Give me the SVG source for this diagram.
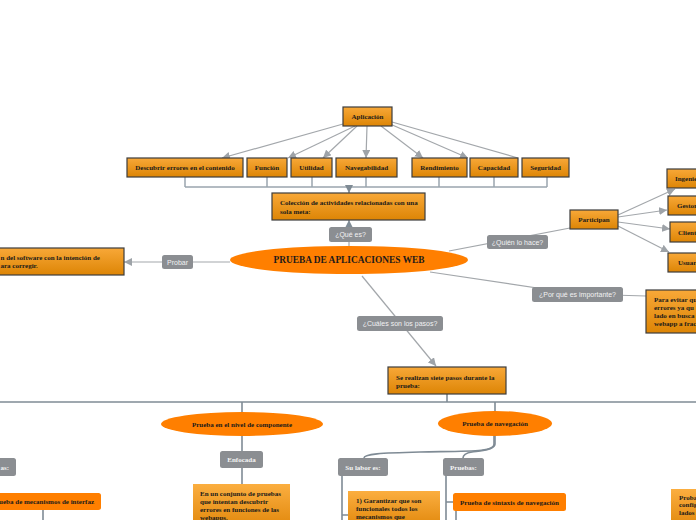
<svg xmlns="http://www.w3.org/2000/svg" width="696" height="520" viewBox="0 0 696 520">
<style>
.box{fill:url(#g);stroke:#3c3c3c;stroke-width:1.2}
.gbox{fill:url(#g2)}
.obox{fill:#ff7f00}
.ell{fill:#ff7f00}
.t{font-family:"Liberation Serif",serif;font-weight:bold;font-size:7px;fill:#1a1a1a}
.tc{text-anchor:middle}
.title{font-size:9.4px;fill:#1d1a1a}
.lbl{fill:#8b8e92}
.lt{font-family:"Liberation Sans",sans-serif;font-size:7px;fill:#f2f2f2;text-anchor:middle}
.lw{font-family:"Liberation Serif",serif;font-weight:bold;font-size:7px;fill:#f4f4f4;text-anchor:middle}
.c{stroke:#a3a7ab;stroke-width:1.2;fill:none}
.b{stroke:#9aa5ae;stroke-width:1.5;fill:none}
.d{stroke:#7f8b95;stroke-width:1.6;fill:none}
</style>
<defs>
<linearGradient id="g" x1="0" y1="0" x2="0" y2="1"><stop offset="0" stop-color="#f8a838"/><stop offset="1" stop-color="#dd8505"/></linearGradient>
<linearGradient id="g2" x1="0" y1="0" x2="0" y2="1"><stop offset="0" stop-color="#fbae40"/><stop offset="1" stop-color="#e38b10"/></linearGradient>
<marker id="a" markerUnits="userSpaceOnUse" markerWidth="8" markerHeight="8" refX="8" refY="4" orient="auto"><path d="M0,0 L8,4 L0,8 z" fill="#9ea3a8"/></marker>
<marker id="a2" markerUnits="userSpaceOnUse" markerWidth="8" markerHeight="8" refX="8" refY="4" orient="auto"><path d="M0,0 L8,4 L0,8 z" fill="#7f8b95"/></marker>
</defs>
<rect width="696" height="520" fill="#ffffff"/>

<g id="connectors">
<line class="c" x1="343" y1="124" x2="222" y2="158" marker-end="url(#a)"/>
<line class="c" x1="355" y1="126" x2="288" y2="158" marker-end="url(#a)"/>
<line class="c" x1="357" y1="126" x2="323" y2="158" marker-end="url(#a)"/>
<line class="c" x1="367" y1="126" x2="366" y2="158" marker-end="url(#a)"/>
<line class="c" x1="381" y1="126" x2="423" y2="158" marker-end="url(#a)"/>
<line class="c" x1="390" y1="124" x2="468" y2="158" marker-end="url(#a)"/>
<line class="c" x1="392" y1="122" x2="518" y2="158"/>
<path class="b" d="M185,177 V187 M267,177 V187 M312,177 V187 M366,177 V187 M439,177 V187 M494,177 V187 M547,177 V187 M185,187 H547"/>
<line class="b" x1="349" y1="187" x2="349" y2="193" stroke="#8f9aa3" marker-end="url(#a2)"/>
<line class="c" x1="349" y1="246" x2="349" y2="220" stroke="#7f8b95" marker-end="url(#a2)"/>
<line class="c" x1="230" y1="262" x2="124" y2="262" marker-end="url(#a)"/>
<line class="c" x1="449" y1="251" x2="570" y2="228"/>
<line class="c" x1="618" y1="215" x2="675" y2="189" marker-end="url(#a)"/>
<line class="c" x1="618" y1="217" x2="667" y2="210" marker-end="url(#a)"/>
<line class="c" x1="618" y1="222" x2="670" y2="229" marker-end="url(#a)"/>
<line class="c" x1="618" y1="226" x2="669" y2="252" marker-end="url(#a)"/>
<path class="c" d="M430,272 L577,294 L646,296"/>
<line class="c" x1="362" y1="276" x2="436" y2="366" marker-end="url(#a)"/>
<line class="d" x1="447" y1="394" x2="447" y2="402"/>
<line class="d" x1="0" y1="402" x2="696" y2="402" stroke-width="2"/>
<line class="d" x1="242" y1="402" x2="242" y2="412"/>
<line class="d" x1="495" y1="402" x2="495" y2="411"/>
<line class="d" x1="242" y1="436" x2="242" y2="451"/>
<line class="d" x1="242" y1="468" x2="242" y2="484"/>
<path class="d" d="M495,436 V444 C495,452 470,451 420,452 C380,453 364,454 364,458"/>
<path class="d" d="M494,436 V444 C494,451 478,451 472,452 C466,453 463,455 463,458"/>
<path class="d" d="M342,476 V520 M342,515 H348"/>
<path class="d" d="M446,476 V520 M446,502 H453"/>
<line class="d" x1="456" y1="511" x2="456" y2="520"/>
<line class="d" x1="43" y1="510" x2="43" y2="520"/>
</g>

<g id="aplicacion"><rect class="box" x="343" y="107" width="49" height="19"/><text class="t tc" x="367.5" y="119">Aplicación</text></g>
<g id="descubrir"><rect class="box" x="127" y="158" width="116" height="19"/><text class="t tc" x="185" y="170">Descubrir errores en el contenido</text></g>
<g id="funcion"><rect class="box" x="247" y="158" width="40" height="19"/><text class="t tc" x="267" y="170">Función</text></g>
<g id="utilidad"><rect class="box" x="291" y="158" width="41" height="19"/><text class="t tc" x="311.5" y="170">Utilidad</text></g>
<g id="navegabilidad"><rect class="box" x="336" y="158" width="61" height="19"/><text class="t tc" x="366.5" y="170">Navegabilidad</text></g>
<g id="rendimiento"><rect class="box" x="412" y="158" width="55" height="19"/><text class="t tc" x="439.5" y="170">Rendimiento</text></g>
<g id="capacidad"><rect class="box" x="470" y="158" width="48" height="19"/><text class="t tc" x="494" y="170">Capacidad</text></g>
<g id="seguridad"><rect class="box" x="522" y="158" width="47" height="19"/><text class="t tc" x="545.5" y="170">Seguridad</text></g>
<g id="coleccion"><rect class="box" x="272" y="193" width="153" height="27"/><text class="t" x="280" y="204.5">Colección de actividades relacionadas con una</text><text class="t" x="280" y="213.5">sola meta:</text></g>

<g id="queEs"><rect class="lbl" x="329" y="227" width="43" height="15" rx="2.5"/><text class="lt" x="350.5" y="237">¿Qué es?</text></g>
<g id="main"><ellipse class="ell" cx="349" cy="260" rx="119" ry="14"/><text class="t tc title" x="349" y="263.4">PRUEBA DE APLICACIONES WEB</text></g>
<g id="probar"><rect class="lbl" x="162" y="255" width="31" height="14" rx="2.5"/><text class="lt" x="177.5" y="264.5">Probar</text></g>
<g id="proceso"><rect class="box" x="-10" y="248" width="134" height="27"/><text class="t" x="0.5" y="259.5">n del software con la intención de</text><text class="t" x="0.5" y="267.5">ara corregir.</text></g>

<g id="quien"><rect class="lbl" x="487" y="235" width="61" height="14" rx="2.5"/><text class="lt" x="517.5" y="244.5">¿Quién lo hace?</text></g>
<g id="participan"><rect class="box" x="570" y="210" width="48" height="19"/><text class="t tc" x="594" y="222">Participan</text></g>
<g id="ingenieros"><rect class="box" x="667" y="169" width="40" height="19"/><text class="t" x="675" y="181">Ingenieros</text></g>
<g id="gestores"><rect class="box" x="668" y="196" width="40" height="19"/><text class="t" x="677" y="208">Gestores</text></g>
<g id="clientes"><rect class="box" x="670" y="222" width="40" height="20"/><text class="t" x="678" y="234.5">Clientes</text></g>
<g id="usuarios"><rect class="box" x="668" y="253" width="40" height="19"/><text class="t" x="678" y="265">Usuarios</text></g>

<g id="importante"><rect class="lbl" x="532" y="287" width="91" height="15" rx="2.5"/><text class="lt" x="577.5" y="297">¿Por qué es importante?</text></g>
<g id="evitar"><rect class="box" x="646" y="290" width="60" height="43"/><text class="t" x="654" y="302">Para evitar qu</text><text class="t" x="654" y="310">errores ya qu</text><text class="t" x="654" y="318">lado en busca</text><text class="t" x="654" y="326">webapp a frac</text></g>

<g id="pasos"><rect class="lbl" x="357" y="316" width="86" height="15" rx="2.5"/><text class="lt" x="400" y="326">¿Cuáles son los pasos?</text></g>
<g id="siete"><rect class="box" x="388" y="367" width="118" height="27"/><text class="t" x="396" y="379.5">Se realizan siete pasos durante la</text><text class="t" x="396" y="388">prueba:</text></g>

<g id="componente"><ellipse class="ell" cx="242" cy="424" rx="81" ry="12"/><text class="t tc" x="242" y="426.5">Prueba en el nivel de componente</text></g>
<g id="enfocada"><rect class="lbl" x="220" y="451" width="43" height="17" rx="2.5"/><text class="lw" x="241.5" y="462">Enfocada</text></g>
<g id="conjunto"><rect class="gbox" x="193" y="484" width="97" height="40"/><text class="t" x="200" y="495.5">En un conjunto de pruebas</text><text class="t" x="200" y="503.5">que intentan descubrir</text><text class="t" x="200" y="511.5">errores en funciones de las</text><text class="t" x="200" y="519.5">webapps.</text></g>

<g id="pruebasIzq"><rect class="lbl" x="-30" y="458" width="46" height="18" rx="2.5"/><text class="lw" x="9" y="469.5" style="text-anchor:end">as:</text></g>
<g id="interfaz"><rect class="obox" x="-20" y="493" width="121" height="17" rx="2.5"/><text class="t" x="94" y="504" text-anchor="end">Prueba de mecanismos de interfaz</text></g>

<g id="navegacion"><ellipse class="ell" cx="495" cy="423.5" rx="57" ry="12.5"/><text class="t tc" x="495" y="426">Prueba de navegación</text></g>
<g id="labor"><rect class="lbl" x="338" y="458" width="50" height="18" rx="2.5"/><text class="lw" x="363" y="469.5">Su labor es:</text></g>
<g id="pruebas"><rect class="lbl" x="443" y="458" width="41" height="18" rx="2.5"/><text class="lw" x="463.5" y="469.5">Pruebas:</text></g>
<g id="garantizar"><rect class="gbox" x="348" y="491" width="92" height="33"/><text class="t" x="356" y="502.5">1) Garantizar que son</text><text class="t" x="356" y="510.5">funcionales todos los</text><text class="t" x="356" y="518.5">mecanismos que</text></g>
<g id="sintaxis"><rect class="obox" x="453" y="493" width="113" height="18" rx="2.5"/><text class="t tc" x="509.5" y="504.5">Prueba de sintaxis de navegación</text></g>
<g id="configuracion"><rect class="gbox" x="671" y="489" width="30" height="35"/><text class="t" x="679" y="499.5">Proba</text><text class="t" x="679" y="507">config</text><text class="t" x="679" y="515">lados</text></g>
</svg>
